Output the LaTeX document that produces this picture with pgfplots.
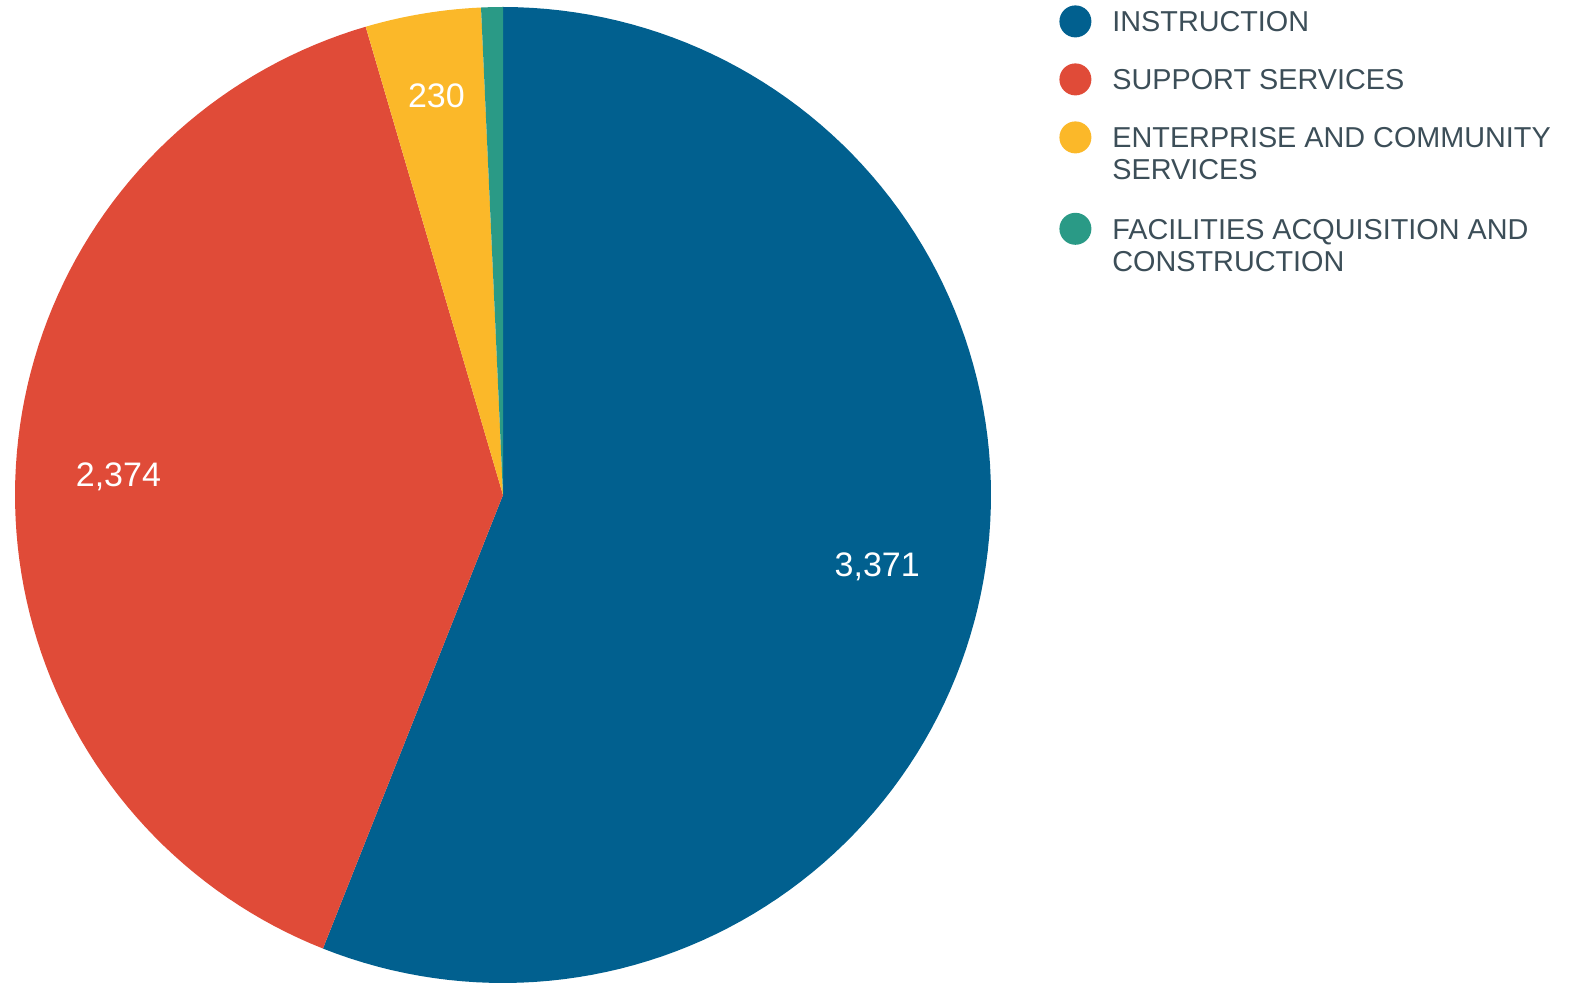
\documentclass[border=0pt]{standalone}
\usepackage{pgfplots}
\pgfplotsset{compat=1.18}
\usepackage{fontspec}
\setmainfont{Liberation Sans}

\definecolor{cblue}{RGB}{1,96,143}
\definecolor{cred}{RGB}{224,75,56}
\definecolor{cyellow}{RGB}{251,184,41}
\definecolor{cteal}{RGB}{42,154,134}
\definecolor{legtext}{RGB}{60,78,88}

% slice values (clockwise from 12 o'clock)
\def\vA{3371}
\def\vB{2374}
\def\vC{230}
\def\vD{43}
\pgfmathsetmacro\T{\vA+\vB+\vC+\vD}
\pgfmathsetmacro\aA{360*(\vA/\T)}
\pgfmathsetmacro\aB{\aA+360*(\vB/\T)}
\pgfmathsetmacro\aC{\aB+360*(\vC/\T)}
% pie centre and radius in picture pixels
\def\cx{503}
\def\cy{491}
\def\R{488}
% two-line legend entry, baseline on the first line
\newcommand\twoline[2]{\vtop{\hbox{#1}\hbox{#2\vrule width 0pt depth 1.5pt}}}

\begin{document}
\begin{tikzpicture}
  \useasboundingbox (0,0) rectangle (785pt,493pt);
  \begin{axis}[
      at={(0,0)}, anchor=south west,
      width=785pt, height=493pt, scale only axis,
      xmin=0, xmax=1570, ymin=0, ymax=986,
      hide axis, clip=false,
      legend image code/.code={\fill[#1] (8pt,5.2pt) circle (8pt);},
      legend style={
        at={(axis cs:1059,981)}, anchor=north west,
        draw=none, fill=none, inner sep=0pt,
        font=\fontsize{14.4}{16}\selectfont, text=legtext,
        nodes={text depth={}},
        cells={anchor=base west, inner sep=0pt},
        row sep=13pt,
        /tikz/every odd column/.append style={column sep=8.5pt},
      },
    ]

    \addplot[draw=none, fill=cblue, domain=0:\aA, samples=120, variable=\t]
      ({\cx+\R*sin(t)},{\cy+\R*cos(t)}) -- (axis cs:\cx,\cy) -- cycle;
    \addlegendentry{INSTRUCTION}

    \addplot[draw=none, fill=cred, domain=\aA:\aB, samples=90, variable=\t]
      ({\cx+\R*sin(t)},{\cy+\R*cos(t)}) -- (axis cs:\cx,\cy) -- cycle;
    \addlegendentry{SUPPORT SERVICES}

    \addplot[draw=none, fill=cyellow, domain=\aB:\aC, samples=15, variable=\t]
      ({\cx+\R*sin(t)},{\cy+\R*cos(t)}) -- (axis cs:\cx,\cy) -- cycle;
    \addlegendentry{\twoline{ENTERPRISE AND COMMUNITY}{SERVICES}}

    \addplot[draw=none, fill=cteal, domain=\aC:360, samples=6, variable=\t]
      ({\cx+\R*sin(t)},{\cy+\R*cos(t)}) -- (axis cs:\cx,\cy) -- cycle;
    \addlegendentry{\twoline{FACILITIES ACQUISITION AND}{CONSTRUCTION}}

    % value labels
    \node[text=white, font=\fontsize{17}{20}\selectfont]
      at (axis cs:{\cx+381*sin(\aA/2)},{\cy+381*cos(\aA/2)}) {3,371};
    \node[text=white, font=\fontsize{17}{20}\selectfont]
      at (axis cs:{\cx+385*sin((\aA+\aB)/2)},{\cy+385*cos((\aA+\aB)/2)}) {2,374};
    \node[text=white, font=\fontsize{17}{20}\selectfont]
      at (axis cs:{\cx+405*sin((\aB+\aC)/2)},{\cy+405*cos((\aB+\aC)/2)}) {230};
  \end{axis}
\end{tikzpicture}
\end{document}
